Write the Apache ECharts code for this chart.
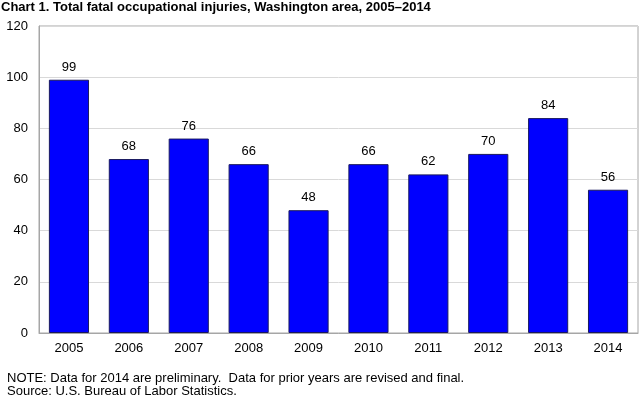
<!DOCTYPE html>
<html>
<head>
<meta charset="utf-8">
<script src="https://cdn.jsdelivr.net/npm/echarts@6/dist/echarts.min.js"></script>
<style>
html,body{margin:0;padding:0;background:#fff;}
#mycharts{width:640px;height:397px;}
</style>
</head>
<body>
<div id="mycharts"></div>
<script>
const years = ['2005','2006','2007','2008','2009','2010','2011','2012','2013','2014'];
const fatalities = [99,68,76,66,48,66,62,70,84,56];
const yTicks = [0,20,40,60,80,100,120];

const FONT = 'Liberation Sans, Arial, sans-serif';
const mCharts = echarts.init(document.getElementById('mycharts'));
const option = {
    animation:false,
    textStyle:{fontFamily:FONT},
    title:{
        text:'Chart 1. Total fatal occupational injuries, Washington area, 2005\u20132014',
        left:1,
        top:0,
        padding:0,
        textStyle:{fontSize:13,fontWeight:'bold',color:'#000',lineHeight:14}
    },
    graphic:[
        {type:'text',left:7,top:372,style:{text:'NOTE: Data for 2014 are preliminary.  Data for prior years are revised and final.',fontSize:13,fill:'#000',fontFamily:FONT}},
        {type:'text',left:7,top:385,style:{text:'Source: U.S. Bureau of Labor Statistics.',fontSize:13,fill:'#000',fontFamily:FONT}},
        // plot frame
        {type:'rect',shape:{x:39,y:26,width:599,height:307},style:{fill:null,stroke:'#a6a6a6',lineWidth:1},z:-1}
    ],
    grid:{left:39,right:2,top:26,bottom:64,containLabel:false},
    xAxis:{
        type:'category',
        data:years,
        axisLine:{lineStyle:{color:'#a6a6a6'}},
        axisTick:{show:false},
        axisLabel:{color:'#000',fontSize:13,margin:9}
    },
    yAxis:{
        type:'value',
        min:yTicks[0],
        max:yTicks[yTicks.length-1],
        interval:20,
        axisLine:{show:true,lineStyle:{color:'#a6a6a6'}},
        axisTick:{show:false},
        axisLabel:{color:'#000',fontSize:13,margin:11},
        splitLine:{lineStyle:{color:'#d9d9d9'}}
    },
    series:[{
        type:'bar',
        data:fatalities,
        barWidth:'67%',
        itemStyle:{color:'#0000ff',borderColor:'#1a1a5e',borderWidth:1},
        label:{show:true,position:'top',color:'#000',fontSize:13,distance:6}
    }]
};
mCharts.setOption(option);
</script>
</body>
</html>
